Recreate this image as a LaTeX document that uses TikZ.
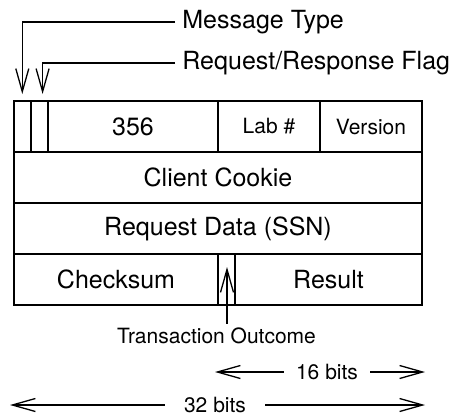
\documentclass[tikz,border=0pt]{standalone}
\usepackage{fontspec}
\setmainfont{TeX Gyre Heros}
\usetikzlibrary{positioning, arrows.meta}

\tikzset{
	field/.style={draw, line width=1pt, outer sep=0pt, inner sep=0pt,
		minimum height=25.5pt, font=\fontsize{12.5}{15}\selectfont},
	small/.style={font=\fontsize{10.5}{12}\selectfont},
	lbl/.style={inner sep=3.5pt, font=\fontsize{12.5}{15}\selectfont},
	callout/.style={line width=0.65pt, -{Straight Barb[length=11.5pt, width=6.5pt]}},
}

\begin{document}
\begin{tikzpicture}[x=0.5pt, y=-0.5pt]
	\useasboundingbox (0,0) rectangle (455,418);

	% packet fields
	\node[field, minimum width=8.5pt, anchor=north west] (mtype) at (14,101) {};
	\node[field, minimum width=8.5pt, right=0pt of mtype] (rflag) {};
	\node[field, minimum width=85pt, right=0pt of rflag] (ident) {356};
	\node[field, small, minimum width=51pt, right=0pt of ident] (labnum) {Lab \#};
	\node[field, small, minimum width=51pt, right=0pt of labnum] (version) {Version};
	\node[field, minimum width=204pt, below=0pt of mtype.south west, anchor=north west] (cookie) {Client Cookie};
	\node[field, minimum width=204pt, below=0pt of cookie] (reqdata) {Request Data (SSN)};
	\node[field, minimum width=102pt, below=0pt of reqdata.south west, anchor=north west] (chksum) {Checksum};
	\node[field, minimum width=8.5pt, right=0pt of chksum] (outc) {};
	\node[field, minimum width=93.5pt, right=0pt of outc] (result) {Result};

	% callouts
	\node[lbl, anchor=west] (msgtype) at (175,22) {Message Type};
	\node[lbl, anchor=west] (rrflag) at (175,63) {Request/Response Flag};
	\node[small, inner sep=2pt] (outcome) at (216.5,336) {Transaction Outcome};
	\coordinate (mtip) at (22.3,94);
	\coordinate (rtip) at (42.6,94);
	\coordinate (otip) at (227,267);

	\draw[callout] (msgtype.west) -| (mtip);
	\draw[callout] (rrflag.west) -| (rtip);
	\draw[callout] (outcome.north -| otip) -- (otip);

	% widths
	\node[small, inner xsep=6pt] (bits16) at (327,372) {16 bits};
	\node[small, inner xsep=9.5pt] (bits32) at (215,405) {32 bits};
	\coordinate (b16l) at (215,372);
	\coordinate (b16r) at (425,372);
	\coordinate (b32l) at (10,405);
	\coordinate (b32r) at (425,405);

	\draw[callout] (bits16) -- (b16l);
	\draw[callout] (bits16) -- (b16r);
	\draw[callout] (bits32) -- (b32l);
	\draw[callout] (bits32) -- (b32r);
\end{tikzpicture}
\end{document}
